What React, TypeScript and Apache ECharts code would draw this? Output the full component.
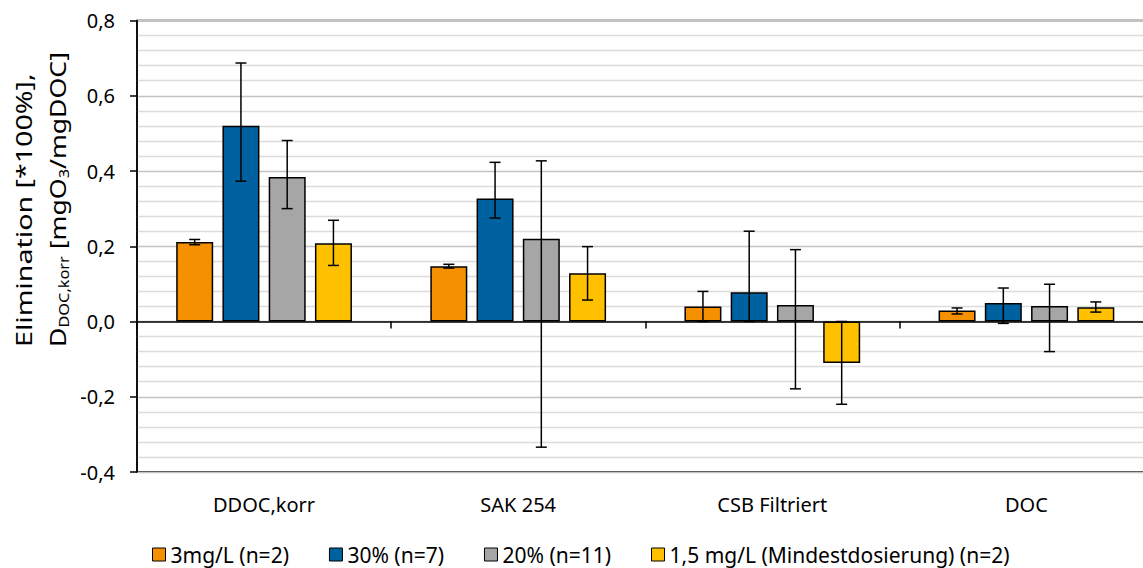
import React, { useEffect, useRef } from "react";
import * as echarts from "echarts";

const categories = ["DDOC,korr", "SAK 254", "CSB Filtriert", "DOC"];
const seriesNames = [
  "3mg/L (n=2)",
  "30% (n=7)",
  "20% (n=11)",
  "1,5 mg/L (Mindestdosierung) (n=2)",
];
const seriesColors = ["#F59100", "#0061A0", "#A6A6A6", "#FFC000"];

const valuesOrange = [0.211, 0.147, 0.04, 0.029];
const valuesBlue = [0.52, 0.327, 0.078, 0.049];
const valuesGray = [0.384, 0.22, 0.044, 0.041];
const valuesYellow = [0.208, 0.128, -0.11, 0.038];

const lowOrange = [0.204, 0.142, 0.0, 0.02];
const highOrange = [0.218, 0.152, 0.08, 0.036];
const lowBlue = [0.373, 0.275, 0.0, -0.005];
const highBlue = [0.687, 0.423, 0.24, 0.089];
const lowGray = [0.3, -0.334, -0.179, -0.08];
const highGray = [0.481, 0.427, 0.191, 0.099];
const lowYellow = [0.149, 0.057, -0.22, 0.025];
const highYellow = [0.269, 0.199, 0.0, 0.052];

const yMin = -0.4;
const yMax = 0.8;
const yInterval = 0.2;

const allValues = [valuesOrange, valuesBlue, valuesGray, valuesYellow];
const allLow = [lowOrange, lowBlue, lowGray, lowYellow];
const allHigh = [highOrange, highBlue, highGray, highYellow];

const BAR_W = 37;
const BAR_GAP = 0.25;
const FONT = '"Noto Sans", "Open Sans", sans-serif';

export default function App() {
  const ref = useRef<HTMLDivElement>(null);

  useEffect(() => {
    if (!ref.current) return;
    const chart = echarts.init(ref.current, undefined, { renderer: "svg" });

    const barSeries = seriesNames.map((name, i) => ({
      name,
      type: "bar",
      xAxisIndex: 0,
      barWidth: BAR_W,
      barGap: BAR_GAP * 100 + "%",
      itemStyle: { color: seriesColors[i], borderColor: "#000", borderWidth: 1.5 },
      data: allValues[i],
      z: 2,
    }));

    const errSeries = seriesNames.map((name, i) => ({
      name: "err" + i,
      type: "custom",
      xAxisIndex: 0,
      z: 5,
      silent: true,
      data: categories.map((_, c) => [c, allLow[i][c], allHigh[i][c]]),
      encode: { x: 0, y: [1, 2] },
      renderItem: (params: any, api: any) => {
        const cat = api.value(0);
        const offset = (i - 1.5) * BAR_W * (1 + BAR_GAP);
        const lo = api.coord([cat, api.value(1)]);
        const hi = api.coord([cat, api.value(2)]);
        const x = lo[0] + offset;
        const hw = 5.5;
        const style = { stroke: "#000", lineWidth: 1.5, fill: null };
        return {
          type: "group",
          children: [
            { type: "line", shape: { x1: x, y1: lo[1], x2: x, y2: hi[1] }, style },
            { type: "line", shape: { x1: x - hw, y1: lo[1], x2: x + hw, y2: lo[1] }, style },
            { type: "line", shape: { x1: x - hw, y1: hi[1], x2: x + hw, y2: hi[1] }, style },
          ],
        };
      },
    }));

    const option: any = {
      animation: false,
      backgroundColor: "#fff",
      textStyle: { fontFamily: FONT },
      grid: {
        left: 137,
        width: 1016.5,
        top: 20.5,
        bottom: 96,
        show: true,
        borderColor: "#000",
        borderWidth: 1.5,
        containLabel: false,
        outerBoundsMode: "none",
      },
      legend: {
        data: seriesNames,
        left: 152,
        top: 544,
        padding: 0,
        itemWidth: 13,
        itemHeight: 13,
        itemGap: 40,
        icon: "rect",
        itemStyle: { borderColor: "#000", borderWidth: 1 },
        textStyle: { fontSize: 21, color: "#000", fontFamily: FONT, lineHeight: 20 },
      },
      xAxis: [
        {
          type: "category",
          data: categories,
          position: "bottom",
          axisLine: { onZero: true, lineStyle: { color: "#000", width: 1.5 } },
          axisTick: { show: true, length: 7, lineStyle: { color: "#000", width: 1.5 } },
          axisLabel: { show: false },
          splitLine: { show: false },
          z: 3,
        },
        {
          type: "category",
          data: categories,
          position: "bottom",
          axisLine: { show: false, onZero: false },
          axisTick: { show: false },
          axisLabel: { show: true, fontSize: 20, color: "#000", margin: 22, fontFamily: FONT },
          splitLine: { show: false },
        },
      ],
      yAxis: {
        type: "value",
        min: yMin,
        max: yMax,
        interval: yInterval,
        axisLine: { show: true, lineStyle: { color: "#000", width: 1.5 } },
        axisTick: { show: true, length: 7, lineStyle: { color: "#000", width: 1.5 } },
        axisLabel: {
          fontSize: 20,
          color: "#000",
          margin: 22,
          fontFamily: FONT,
          formatter: (v: number) => v.toFixed(1).replace(".", ","),
        },
        splitLine: { show: true, lineStyle: { color: "#C4C4C4", width: 1.3 } },
        minorTick: { show: false, splitNumber: 5 },
        minorSplitLine: { show: true, lineStyle: { color: "#DCDCDC", width: 1.3 } },
      },
      graphic: [
        {
          type: "text",
          x: 23,
          y: 347,
          rotation: Math.PI / 2,
          scaleX: 1.3,
          style: {
            text: "Elimination [*100%],",
            fontSize: 22,
            fontFamily: FONT,
            fill: "#000",
            align: "left",
            verticalAlign: "middle",
          },
        },
        {
          type: "text",
          x: 57,
          y: 347,
          rotation: Math.PI / 2,
          scaleX: 1.21,
          style: {
            text: "D{sub|DOC,korr} [mgO{sub|3}/mgDOC]",
            fontSize: 22,
            fontFamily: FONT,
            fill: "#000",
            align: "left",
            verticalAlign: "middle",
            lineHeight: 27,
            rich: {
              sub: { fontSize: 13.5, fontFamily: FONT, fill: "#000", verticalAlign: "bottom", lineHeight: 27 },
            },
          },
        },
      ],
      series: [...barSeries, ...errSeries],
    };

    chart.setOption(option);
    return () => chart.dispose();
  }, []);

  return (
    <div
      ref={ref}
      style={{ position: "fixed", left: 0, top: 0, width: 1143, height: 568, background: "#fff" }}
    />
  );
}
